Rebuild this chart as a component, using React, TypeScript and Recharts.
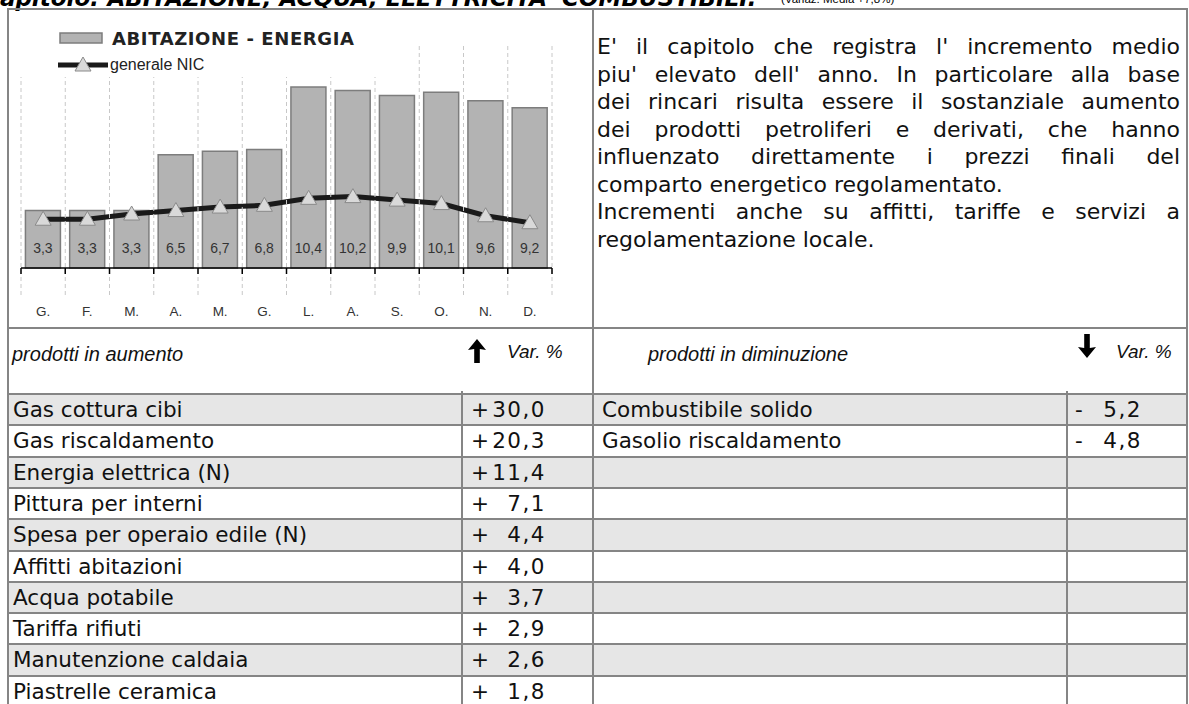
import React from 'react';
import { ComposedChart, Bar, Line, XAxis, YAxis, LabelList, Legend } from 'recharts';

// ---------- data ----------
const months = ['G.', 'F.', 'M.', 'A.', 'M.', 'G.', 'L.', 'A.', 'S.', 'O.', 'N.', 'D.'];
const abitazioneEnergia = [3.3, 3.3, 3.3, 6.5, 6.7, 6.8, 10.4, 10.2, 9.9, 10.1, 9.6, 9.2];
const generaleNic = [2.8, 2.8, 3.1, 3.3, 3.5, 3.6, 4.0, 4.1, 3.9, 3.7, 3.0, 2.6];

const seriesNames = ['ABITAZIONE - ENERGIA', 'generale NIC'];

const increaseProducts = [
  'Gas cottura cibi',
  'Gas riscaldamento',
  'Energia elettrica (N)',
  'Pittura per interni',
  'Spesa per operaio edile (N)',
  'Affitti abitazioni',
  'Acqua potabile',
  'Tariffa rifiuti',
  'Manutenzione caldaia',
  'Piastrelle ceramica',
];
const increaseValues = [30.0, 20.3, 11.4, 7.1, 4.4, 4.0, 3.7, 2.9, 2.6, 1.8];
const decreaseProducts = ['Combustibile solido', 'Gasolio riscaldamento'];
const decreaseValues = [5.2, 4.8];

const titleText = "Capitolo: ABITAZIONE, ACQUA, ELETTRICITA' COMBUSTIBILI:";
const subtitleText = '(Variaz. Media +7,8%)';
const paragraphLines = [
  "E' il capitolo che registra l' incremento medio",
  "piu' elevato dell' anno. In particolare alla base",
  'dei rincari risulta essere il sostanziale aumento',
  'dei prodotti petroliferi e derivati, che hanno',
  'influenzato direttamente i prezzi finali del',
  'comparto energetico regolamentato.',
  'Incrementi anche su affitti, tariffe e servizi a',
  'regolamentazione locale.',
];
const paragraphJustified = [true, true, true, true, true, false, true, false];

// ---------- layout ----------
const CHART_W = 592;
const CHART_H = 328;
const M = { top: 46, right: 40, left: 21, bottom: 0 };
const AXIS_H = 60;
const PLOT_W = CHART_W - M.left - M.right;
const BAND = PLOT_W / months.length;

const FRAME = '#858585';
const GRID = '#c8c8c8';
const BAR_FILL = '#b3b3b3';
const BAR_STROKE = '#7d7d7d';
const LINE_COLOR = '#1a1a1a';
const TRI_FILL = '#d9d9d9';
const TRI_STROKE = '#8a8a8a';

const SANS = '"DejaVu Sans", Verdana, sans-serif';
const ARIAL = '"Liberation Sans", Arial, sans-serif';

const TOP = 8;
const MID_X = 592;
const RIGHT_X = 1186;
const LEFT_X = 7;
const HEAD_LINE = 327;
const ROW0 = 394;
const ROW_H = 31.3;
const LEFT_DIV = 461;
const RIGHT_DIV = 1066;

const chartData = months.map((m, i) => ({
  month: m,
  abitazione: abitazioneEnergia[i],
  nic: generaleNic[i],
}));

const fmt = (v: number) => v.toFixed(1).replace('.', ',');

const triangle = (cx: number, cy: number, key?: any) => (
  <polygon
    key={key}
    points={`${cx},${cy - 8} ${cx - 8},${cy + 6} ${cx + 8},${cy + 6}`}
    fill={TRI_FILL}
    stroke={TRI_STROKE}
    strokeWidth={1}
  />
);

const MonthTick = (props: any) => {
  const { x, y, payload, index } = props;
  const left = x - BAND / 2;
  const right = x + BAND / 2;
  const bounds = [left];
  if (index === months.length - 1) bounds.push(right);
  return (
    <g>
      {bounds.map((bx, i) => (
        <g key={i}>
          <line x1={bx} x2={bx} y1={M.top} y2={y + 29} stroke={GRID} strokeWidth={1} strokeDasharray="4 3" />
          <line x1={bx} x2={bx} y1={y} y2={y + 6} stroke="#000" strokeWidth={1.5} />
        </g>
      ))}
      <text x={x} y={y + 48} textAnchor="middle" fontFamily={ARIAL} fontSize={13.5} fill="#333">
        {payload.value}
      </text>
    </g>
  );
};

const BarValueLabel = (props: any) => {
  const { x, y, width, height, value } = props;
  return (
    <text
      x={x + width / 2}
      y={y + height - 15}
      textAnchor="middle"
      fontFamily={ARIAL}
      fontSize={14}
      fill="#333"
    >
      {fmt(value)}
    </text>
  );
};

const NicDot = (props: any) => {
  const { cx, cy, index } = props;
  return triangle(cx, cy, index);
};

const LegendContent = () => (
  <svg width={380} height={57}>
    <rect x={45} y={13} width={42} height={10} fill={BAR_FILL} stroke={BAR_STROKE} strokeWidth={1.5} />
    <text x={97} y={25} fontFamily={SANS} fontWeight="bold" fontSize={18} letterSpacing={0.6} fill="#222">
      {seriesNames[0]}
    </text>
    <line x1={43} x2={93} y1={45} y2={45} stroke={LINE_COLOR} strokeWidth={5} />
    {triangle(68, 45)}
    <text x={95} y={50} fontFamily={ARIAL} fontSize={16} fill="#222">
      {seriesNames[1]}
    </text>
  </svg>
);

const hLine = (x1: number, x2: number, y: number, key: any) => (
  <div key={key} style={{ position: 'absolute', left: x1, top: y, width: x2 - x1 + 2, height: 2, background: FRAME }} />
);
const vLine = (x: number, y1: number, y2: number, key: any) => (
  <div key={key} style={{ position: 'absolute', left: x, top: y1, width: 2, height: y2 - y1, background: FRAME }} />
);

const ArrowUp = () => (
  <svg width={18} height={24} viewBox="0 0 18 24">
    <polygon points="9,0 18,11 11.8,10 11.8,24 6.2,24 6.2,10 0,11" fill="#000" />
  </svg>
);
const ArrowDown = () => (
  <svg width={18} height={24} viewBox="0 0 18 24">
    <polygon points="9,24 18,13 11.8,14 11.8,0 6.2,0 6.2,14 0,13" fill="#000" />
  </svg>
);

export default function App() {
  const nRows = increaseProducts.length;
  const rowTop = (i: number) => ROW0 + i * ROW_H;
  const cellText: React.CSSProperties = {
    position: 'absolute',
    fontFamily: SANS,
    fontSize: 21.5,
    color: '#111',
    lineHeight: `${ROW_H}px`,
    height: ROW_H,
    whiteSpace: 'nowrap',
  };
  const headText: React.CSSProperties = {
    position: 'absolute',
    fontFamily: ARIAL,
    fontStyle: 'italic',
    color: '#111',
    lineHeight: '24px',
    whiteSpace: 'nowrap',
  };

  return (
    <div
      style={{
        position: 'absolute',
        left: 0,
        top: 0,
        width: 1189,
        height: 704,
        overflow: 'hidden',
        background: '#fff',
      }}
    >
      {/* title */}
      <div
        style={{
          position: 'absolute',
          left: -17,
          top: -17,
          fontFamily: SANS,
          fontWeight: 'bold',
          fontStyle: 'italic',
          fontSize: 23,
          lineHeight: '30px',
          color: '#000',
          whiteSpace: 'nowrap',
        }}
      >
        {titleText}
      </div>
      <div
        style={{
          position: 'absolute',
          left: 781,
          top: -9,
          fontFamily: ARIAL,
          fontSize: 11.5,
          lineHeight: '16px',
          color: '#000',
          whiteSpace: 'nowrap',
        }}
      >
        {subtitleText}
      </div>

      {/* row shading */}
      {increaseProducts.map((_, i) =>
        i % 2 === 0 ? (
          <div
            key={'bg' + i}
            style={{ position: 'absolute', left: LEFT_X, top: rowTop(i), width: RIGHT_X - LEFT_X, height: ROW_H, background: '#e6e6e6' }}
          />
        ) : null
      )}

      {/* chart */}
      <div style={{ position: 'absolute', left: 0, top: 0 }}>
        <ComposedChart width={CHART_W} height={CHART_H} data={chartData} margin={M} barCategoryGap="10%">
          <XAxis
            dataKey="month"
            height={AXIS_H}
            interval={0}
            tickSize={0}
            tickMargin={0}
            tickLine={false}
            axisLine={{ stroke: '#000', strokeWidth: 1.5 }}
            tick={<MonthTick />}
          />
          <YAxis hide domain={[0, 12.75]} />
          <Legend
            layout="vertical"
            align="center"
            verticalAlign="middle"
            content={<LegendContent />}
            wrapperStyle={{ position: 'absolute', left: 15, top: 20, width: 380, height: 57, background: '#fff' }}
          />
          <Bar dataKey="abitazione" fill={BAR_FILL} stroke={BAR_STROKE} strokeWidth={1.5} isAnimationActive={false}>
            <LabelList dataKey="abitazione" content={<BarValueLabel />} />
          </Bar>
          <Line
            dataKey="nic"
            stroke={LINE_COLOR}
            strokeWidth={5}
            dot={<NicDot />}
            activeDot={false}
            isAnimationActive={false}
          />
        </ComposedChart>
      </div>

      {/* paragraph */}
      {paragraphLines.map((t, i) => (
        <div
          key={'p' + i}
          style={{
            position: 'absolute',
            left: 597,
            top: 33 + i * 27.5,
            width: 583,
            fontFamily: SANS,
            fontSize: 22,
            lineHeight: '28px',
            color: '#111',
            whiteSpace: 'nowrap',
            textAlign: paragraphJustified[i] ? 'justify' : 'left',
            textAlignLast: paragraphJustified[i] ? 'justify' : 'left',
          } as React.CSSProperties}
        >
          {t}
        </div>
      ))}

      {/* table headers */}
      <div style={{ ...headText, left: 12, top: 342, fontSize: 20 }}>prodotti in aumento</div>
      <div style={{ position: 'absolute', left: 468, top: 339 }}>
        <ArrowUp />
      </div>
      <div style={{ ...headText, left: 507, top: 340, fontSize: 19 }}>Var. %</div>
      <div style={{ ...headText, left: 648, top: 342, fontSize: 20 }}>prodotti in diminuzione</div>
      <div style={{ position: 'absolute', left: 1078, top: 334 }}>
        <ArrowDown />
      </div>
      <div style={{ ...headText, left: 1116, top: 340, fontSize: 19 }}>Var. %</div>

      {/* table cells */}
      {increaseProducts.map((p, i) => (
        <React.Fragment key={'inc' + i}>
          <div style={{ ...cellText, left: 13, top: rowTop(i) }}>{p}</div>
          <div style={{ ...cellText, left: 471, top: rowTop(i) }}>+</div>
          <div style={{ ...cellText, left: 470, top: rowTop(i), width: 76, textAlign: 'right', letterSpacing: 1.5 }}>
            {fmt(increaseValues[i])}
          </div>
        </React.Fragment>
      ))}
      {decreaseProducts.map((p, i) => (
        <React.Fragment key={'dec' + i}>
          <div style={{ ...cellText, left: 602, top: rowTop(i) }}>{p}</div>
          <div style={{ ...cellText, left: 1075, top: rowTop(i) }}>-</div>
          <div style={{ ...cellText, left: 1068, top: rowTop(i), width: 74, textAlign: 'right', letterSpacing: 1.5 }}>
            {fmt(decreaseValues[i])}
          </div>
        </React.Fragment>
      ))}

      {/* frame lines */}
      {hLine(LEFT_X, RIGHT_X, TOP, 'top')}
      {hLine(LEFT_X, RIGHT_X, HEAD_LINE, 'head')}
      {Array.from({ length: nRows + 1 }, (_, i) => hLine(LEFT_X, RIGHT_X, Math.round(rowTop(i)) - 1, 'r' + i))}
      {vLine(LEFT_X, TOP, 704, 'vl')}
      {vLine(MID_X, TOP, 704, 'vm')}
      {vLine(RIGHT_X, TOP, 704, 'vr')}
      {vLine(LEFT_DIV, ROW0 - 3, 704, 'vd1')}
      {vLine(RIGHT_DIV, ROW0 - 3, 704, 'vd2')}
    </div>
  );
}
